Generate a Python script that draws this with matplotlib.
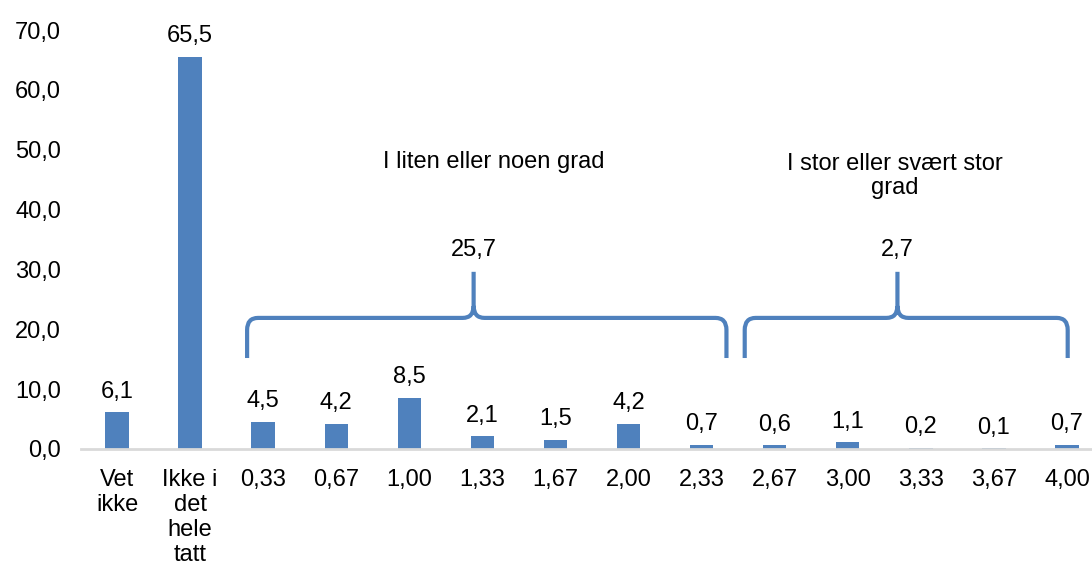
import numpy as np
import matplotlib.pyplot as plt
from matplotlib.path import Path
from matplotlib.patches import PathPatch

plt.rcParams['font.family'] = ['Liberation Sans', 'DejaVu Sans']

# Data
kategorier = ['Vet\nikke', 'Ikke i\ndet\nhele\ntatt', '0,33', '0,67', '1,00', '1,33',
              '1,67', '2,00', '2,33', '2,67', '3,00', '3,33', '3,67', '4,00']
verdier = [6.1, 65.5, 4.5, 4.2, 8.5, 2.1, 1.5, 4.2, 0.7, 0.6, 1.1, 0.2, 0.1, 0.7]

grupper = ['I liten eller noen grad', 'I stor eller svært stor\ngrad']
gruppe_sum = [25.7, 2.7]

farge = '#4f81bd'
fs = 17

fig = plt.figure(figsize=(10.92, 5.69), dpi=100)
ax = fig.add_axes([80.5 / 1092, 120 / 569, 1023 / 1092, 419 / 569])

x = np.arange(len(verdier))
ax.bar(x, verdier, width=0.32, color=farge)

for xi, v in zip(x, verdier):
    ax.annotate(f'{v:.1f}'.replace('.', ','), (xi, v), xytext=(0, 7),
                textcoords='offset points', ha='center', va='bottom', fontsize=fs)

ax.set_xlim(-0.5, len(verdier) - 0.5)
ax.set_ylim(0, 70)
ax.set_yticks(np.arange(0, 71, 10))
ax.set_yticklabels([f'{t:.1f}'.replace('.', ',') for t in np.arange(0, 71, 10)])
ax.set_xticks(x)
ax.set_xticklabels(kategorier, linespacing=1.18)
ax.tick_params(axis='both', length=0, labelsize=fs)
ax.tick_params(axis='y', pad=14)
ax.tick_params(axis='x', pad=14.5)

for s in ['top', 'right', 'left']:
    ax.spines[s].set_visible(False)
ax.spines['bottom'].set_color('#d9d9d9')
ax.spines['bottom'].set_linewidth(2)


def klamme(x0, x1, c, ybot, ytop, ypeak, rx=0.15, ry=2.0):
    verts = [(x0, ybot), (x0, ytop - ry), (x0, ytop), (x0 + rx, ytop),
             (c - rx, ytop), (c, ytop), (c, ytop + ry), (c, ypeak),
             (c, ytop + ry), (c, ytop), (c + rx, ytop),
             (x1 - rx, ytop), (x1, ytop), (x1, ytop - ry), (x1, ybot)]
    codes = [Path.MOVETO, Path.LINETO, Path.CURVE3, Path.CURVE3,
             Path.LINETO, Path.CURVE3, Path.CURVE3, Path.LINETO,
             Path.MOVETO, Path.CURVE3, Path.CURVE3,
             Path.LINETO, Path.CURVE3, Path.CURVE3, Path.LINETO]
    ax.add_patch(PathPatch(Path(verts, codes), fill=False, edgecolor=farge,
                           linewidth=3, capstyle='butt', joinstyle='round',
                           clip_on=False))


# Klammer over gruppene
klamme(1.78, 8.34, 4.88, 15.2, 21.9, 29.6)
klamme(8.59, 13.01, 10.68, 15.2, 21.9, 29.6)

ax.text(4.88, 33.2, f'{gruppe_sum[0]:.1f}'.replace('.', ','), ha='center', va='center', fontsize=fs)
ax.text(10.68, 33.2, f'{gruppe_sum[1]:.1f}'.replace('.', ','), ha='center', va='center', fontsize=fs)
ax.text(5.15, 47.9, grupper[0], ha='center', va='center', fontsize=fs)
ax.text(10.65, 45.6, grupper[1], ha='center', va='center', fontsize=fs,
        linespacing=1.15)

fig.savefig('out.png', dpi=100)
